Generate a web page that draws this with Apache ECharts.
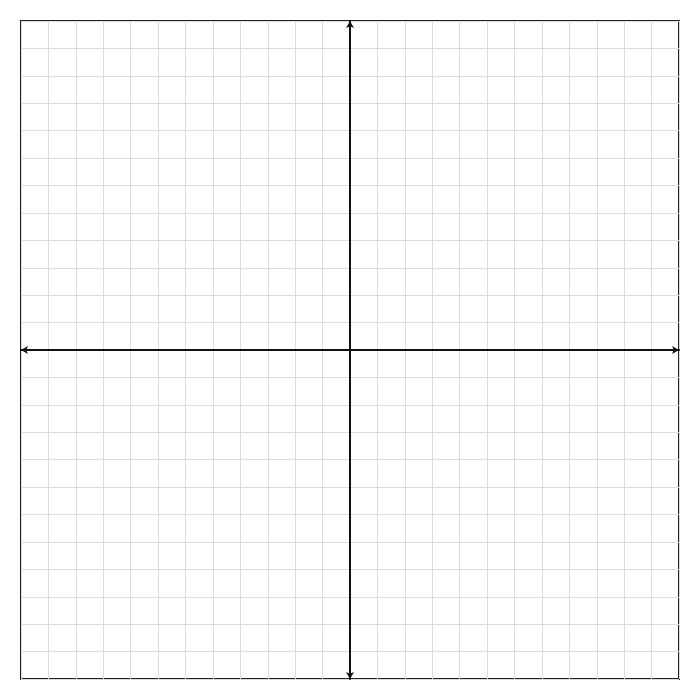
<!DOCTYPE html>
<html>
<head>
<meta charset="utf-8">
<script src="https://cdn.jsdelivr.net/npm/echarts@6/dist/echarts.min.js"></script>
<style>html,body{margin:0;padding:0;background:#fff;}#c{width:700px;height:700px;}</style>
</head>
<body>
<div id="c"></div>
<script>
var xRange = [-12, 12];
var yRange = [-12, 12];
var tickStep = 1;
var points = [];

var chart = echarts.init(document.getElementById('c'), null, {renderer: 'canvas'});
function axis(range) {
  return {
    type: 'value', min: range[0], max: range[1], interval: tickStep,
    axisLine: {show: true, onZero: true, symbol: ['arrow', 'arrow'], symbolSize: [6, 7],
      lineStyle: {color: '#111', width: 2}},
    axisTick: {show: false},
    axisLabel: {show: false},
    splitLine: {show: true, lineStyle: {color: '#dcdcdc', width: 1}}
  };
}
chart.setOption({
  animation: false,
  backgroundColor: '#fff',
  grid: {left: 21, right: 21, top: 21, bottom: 21, show: true, borderColor: '#222', borderWidth: 2, backgroundColor: 'transparent', containLabel: false},
  xAxis: axis(xRange),
  yAxis: axis(yRange),
  series: [{type: 'scatter', data: points}]
});
</script>
</body>
</html>
